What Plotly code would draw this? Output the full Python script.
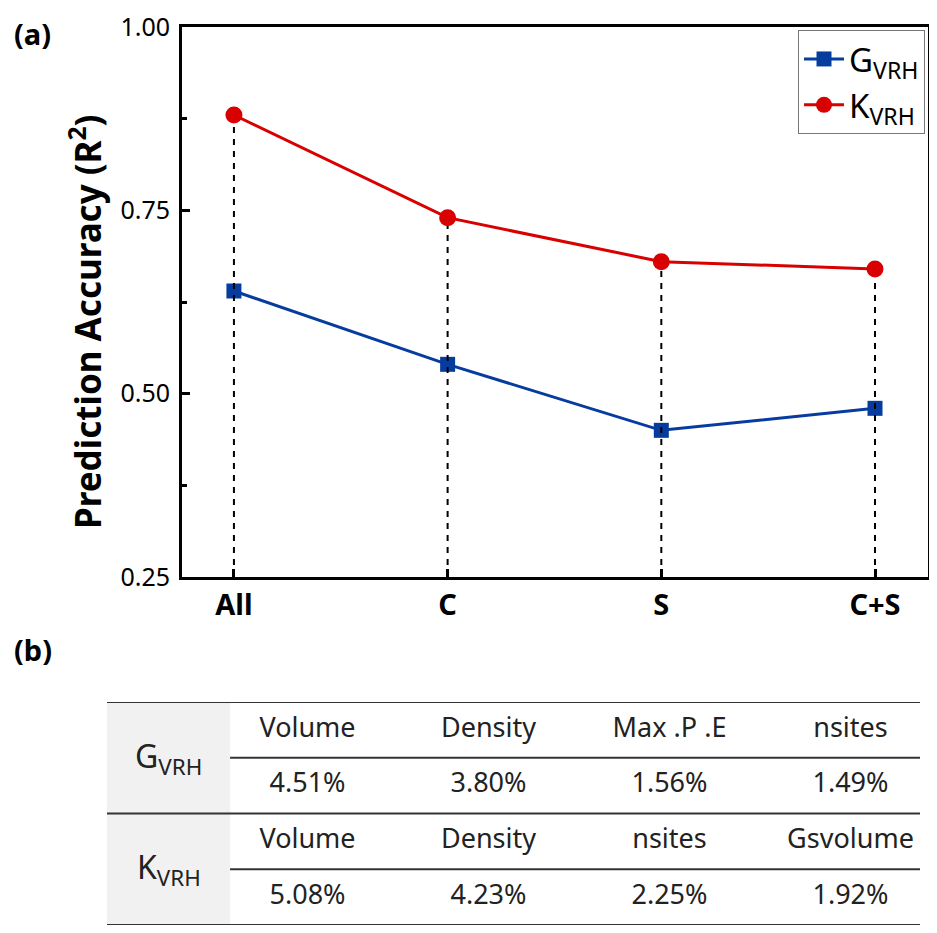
import plotly.graph_objects as go

# ---------------- data ----------------
categories = ["All", "C", "S", "C+S"]
g_vrh = [0.64, 0.54, 0.45, 0.48]
k_vrh = [0.88, 0.74, 0.68, 0.67]
y_ticks = [0.25, 0.50, 0.75, 1.00]
y_tick_labels = ["0.25", "0.50", "0.75", "1.00"]
y_minor_ticks = [0.375, 0.625, 0.875]

row_labels = ["G<sub>VRH</sub>", "K<sub>VRH</sub>"]
g_features = ["Volume", "Density", "Max .P .E", "nsites"]
g_importance = ["4.51%", "3.80%", "1.56%", "1.49%"]
k_features = ["Volume", "Density", "nsites", "Gsvolume"]
k_importance = ["5.08%", "4.23%", "2.25%", "1.92%"]

FONT = "Noto Sans, Open Sans, sans-serif"
BLUE = "#073c9f"
RED = "#d80000"

# page body has an 8px margin: work in screen pixels and convert
OFF = 8
W, H = 937 - 2 * OFF, 933 - 2 * OFF


def px(x):
    return min(1.0, max(0.0, (x - OFF) / W))


def py(y):
    return min(1.0, max(0.0, 1 - (y - OFF) / H))


fig = go.Figure()

# G line
fig.add_trace(go.Scatter(
    x=categories, y=g_vrh, mode="lines+markers", name="G<sub>VRH</sub>",
    legendgroup="g",
    line=dict(color=BLUE, width=3),
    marker=dict(symbol="square", size=15, color=BLUE),
    xaxis="x", yaxis="y"))

# dashed drop lines from K points to the bottom axis
dx, dy = [], []
for c, k in zip(categories, k_vrh):
    dx += [c, c, None]
    dy += [y_ticks[0], k, None]
fig.add_trace(go.Scatter(
    x=dx, y=dy, mode="lines", showlegend=False, hoverinfo="skip",
    line=dict(color="black", width=2, dash="6px,6px"),
    xaxis="x", yaxis="y"))

# K line
fig.add_trace(go.Scatter(
    x=categories, y=k_vrh, mode="lines+markers", name="K<sub>VRH</sub>",
    legendgroup="k",
    line=dict(color=RED, width=3),
    marker=dict(symbol="circle", size=17, color=RED),
    xaxis="x", yaxis="y"))

# ---------------- table (panel b) ----------------
table_rows = [g_features, g_importance, k_features, k_importance]
tx, ty, tt = [], [], []
for i, row in enumerate(table_rows):
    for j, val in enumerate(row):
        tx.append(j)
        ty.append(i)
        tt.append(val)
fig.add_trace(go.Scatter(
    x=tx, y=ty, text=tt, mode="text", showlegend=False, hoverinfo="skip",
    textfont=dict(family=FONT, size=27, color="#222222"),
    xaxis="x2", yaxis="y2"))

x2_left, x2_right, x2_gray = -1.108, 3.384, -0.428
label_x = (x2_left + x2_gray) / 2

shapes = [
    dict(type="rect", xref="x2", yref="y2", x0=x2_left, x1=x2_gray, y0=-0.5, y1=3.5,
         fillcolor="#f1f1f1", line=dict(width=0), layer="below"),
]
for yv, full in [(-0.5, True), (0.5, False), (1.5, True), (2.5, False), (3.5, True)]:
    shapes.append(dict(type="line", xref="x2", yref="y2",
                       x0=x2_left if full else x2_gray, x1=x2_right, y0=yv, y1=yv,
                       line=dict(color="#333333", width=2)))

annotations = [
    dict(text="<b>(a)</b>", x=px(12), y=py(34), xref="paper", yref="paper",
         xanchor="left", yanchor="middle", showarrow=False,
         font=dict(family=FONT, size=29, color="black")),
    dict(text="<b>(b)</b>", x=px(12), y=py(649), xref="paper", yref="paper",
         xanchor="left", yanchor="middle", showarrow=False,
         font=dict(family=FONT, size=29, color="black")),
    dict(text="<b>Prediction Accuracy (R<sup>2</sup>)</b>", x=px(85), y=py(322),
         xref="paper", yref="paper", xanchor="center", yanchor="middle",
         textangle=-90, showarrow=False,
         font=dict(family=FONT, size=35, color="black")),
]
for lbl, yc in zip(row_labels, [0.5, 2.5]):
    annotations.append(dict(text=lbl, x=label_x, y=yc, xref="x2", yref="y2",
                            showarrow=False, xanchor="center", yanchor="middle",
                            font=dict(family=FONT, size=32, color="#222222")))

fig.update_layout(
    width=W, height=H,
    margin=dict(l=0, r=0, t=0, b=0, pad=0),
    paper_bgcolor="white", plot_bgcolor="white",
    font=dict(family=FONT, color="black"),
    showlegend=True,
    legend=dict(x=px(925), y=py(30), xanchor="right", yanchor="top",
                bgcolor="white", bordercolor="#777777", borderwidth=1,
                font=dict(family=FONT, size=33, color="black"),
                itemwidth=40, tracegroupgap=8, traceorder="normal"),
    xaxis=dict(domain=[px(182), px(928)], anchor="y", automargin=False,
               type="category", categoryorder="array", categoryarray=categories,
               range=[-0.243, 3.248],
               showline=True, linecolor="black", linewidth=3, mirror=True,
               ticks="inside", ticklen=8, tickwidth=3, tickcolor="black",
               tickfont=dict(family=FONT, size=29, color="black", weight="bold"),
               showgrid=False, zeroline=False, fixedrange=True),
    yaxis=dict(domain=[py(577), py(27)], anchor="x", automargin=False,
               range=[0.25, 1.00],
               tickvals=y_ticks, ticktext=y_tick_labels,
               showline=True, linecolor="black", linewidth=3, mirror=True,
               ticks="inside", ticklen=8, tickwidth=3, tickcolor="black",
               ticklabelstandoff=4,
               minor=dict(tickvals=y_minor_ticks, ticks="inside",
                          ticklen=5, tickwidth=3, tickcolor="black", showgrid=False),
               tickfont=dict(family=FONT, size=25, color="black"),
               showgrid=False, zeroline=False, fixedrange=True),
    xaxis2=dict(domain=[px(107), px(920)], anchor="y2", range=[x2_left, x2_right],
                visible=False, fixedrange=True, automargin=False),
    yaxis2=dict(domain=[py(927), py(702)], anchor="x2", range=[3.5, -0.5],
                visible=False, fixedrange=True, automargin=False),
    shapes=shapes,
    annotations=annotations,
)

fig.write_html("out.html")
